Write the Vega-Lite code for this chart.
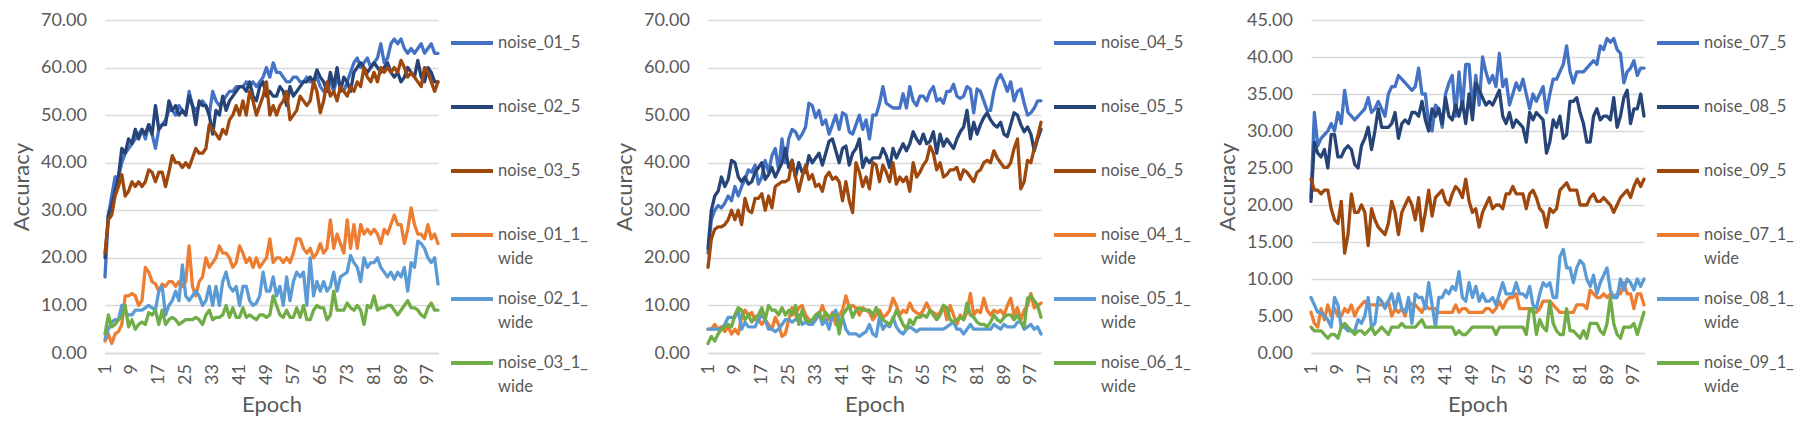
{
"$schema": "https://vega.github.io/schema/vega-lite/v6.json",
"background": "white",
"padding": {"left": 10, "top": 11, "right": 0, "bottom": 0},
"spacing": 25,
"config": {
 "font": "Lato",
 "view": {"stroke": null},
 "axis": {"labelFont": "Lato", "labelColor": "#595959", "labelFontSize": 18, "titleFont": "Lato", "titleColor": "#595959", "titleFontSize": 22, "titleFontWeight": "normal", "ticks": false, "domain": false, "gridColor": "#D9D9D9", "gridWidth": 1.5},
 "axisX": {"grid": false, "domain": true, "domainColor": "#D9D9D9", "domainWidth": 1.5, "labelAngle": -90, "labelPadding": 10.5, "titlePadding": 10},
 "axisY": {"labelPadding": 18.5, "titlePadding": 7},
 "legend": {"orient": "right", "offset": 9, "padding": 0, "symbolType": "stroke", "symbolSize": 1764, "symbolStrokeWidth": 4, "labelFont": "Lato", "labelFontSize": 16.5, "labelColor": "#595959", "labelOffset": 3, "rowPadding": 8, "labelLimit": 300}
},
"datasets": {
"p1": [
{"e":1,"noise_01_5":16,"noise_02_5":20,"noise_03_5":21,"noise_01_1_wide":2.5,"noise_02_1_wide":3,"noise_03_1_wide":4},
{"e":2,"noise_01_5":29,"noise_02_5":29,"noise_03_5":28,"noise_01_1_wide":4,"noise_02_1_wide":5,"noise_03_1_wide":8},
{"e":3,"noise_01_5":33,"noise_02_5":31,"noise_03_5":29,"noise_01_1_wide":2,"noise_02_1_wide":6.5,"noise_03_1_wide":5.5},
{"e":4,"noise_01_5":37,"noise_02_5":34,"noise_03_5":33,"noise_01_1_wide":4,"noise_02_1_wide":7,"noise_03_1_wide":6},
{"e":5,"noise_01_5":37,"noise_02_5":37,"noise_03_5":35,"noise_01_1_wide":4.5,"noise_02_1_wide":7,"noise_03_1_wide":7},
{"e":6,"noise_01_5":40,"noise_02_5":43,"noise_03_5":37.5,"noise_01_1_wide":6,"noise_02_1_wide":10,"noise_03_1_wide":7.5},
{"e":7,"noise_01_5":42,"noise_02_5":42,"noise_03_5":33,"noise_01_1_wide":12,"noise_02_1_wide":8.5,"noise_03_1_wide":10},
{"e":8,"noise_01_5":43,"noise_02_5":45,"noise_03_5":34,"noise_01_1_wide":12,"noise_02_1_wide":8,"noise_03_1_wide":5.5},
{"e":9,"noise_01_5":44,"noise_02_5":44,"noise_03_5":36,"noise_01_1_wide":12.5,"noise_02_1_wide":8,"noise_03_1_wide":7},
{"e":10,"noise_01_5":45,"noise_02_5":47,"noise_03_5":35,"noise_01_1_wide":12,"noise_02_1_wide":9,"noise_03_1_wide":5},
{"e":11,"noise_01_5":46,"noise_02_5":45,"noise_03_5":36,"noise_01_1_wide":10,"noise_02_1_wide":9,"noise_03_1_wide":6},
{"e":12,"noise_01_5":47,"noise_02_5":47,"noise_03_5":35,"noise_01_1_wide":11,"noise_02_1_wide":9,"noise_03_1_wide":6.5},
{"e":13,"noise_01_5":45,"noise_02_5":46,"noise_03_5":36,"noise_01_1_wide":18,"noise_02_1_wide":9.5,"noise_03_1_wide":6},
{"e":14,"noise_01_5":48,"noise_02_5":48,"noise_03_5":38.5,"noise_01_1_wide":17,"noise_02_1_wide":10,"noise_03_1_wide":8.5},
{"e":15,"noise_01_5":46,"noise_02_5":46,"noise_03_5":38,"noise_01_1_wide":15,"noise_02_1_wide":9.5,"noise_03_1_wide":8},
{"e":16,"noise_01_5":43,"noise_02_5":52,"noise_03_5":36,"noise_01_1_wide":14.5,"noise_02_1_wide":9,"noise_03_1_wide":9},
{"e":17,"noise_01_5":47,"noise_02_5":47,"noise_03_5":38,"noise_01_1_wide":13,"noise_02_1_wide":13,"noise_03_1_wide":6},
{"e":18,"noise_01_5":48,"noise_02_5":48,"noise_03_5":38,"noise_01_1_wide":14.5,"noise_02_1_wide":14,"noise_03_1_wide":9},
{"e":19,"noise_01_5":49,"noise_02_5":48,"noise_03_5":35,"noise_01_1_wide":14,"noise_02_1_wide":8,"noise_03_1_wide":6},
{"e":20,"noise_01_5":51,"noise_02_5":53,"noise_03_5":38,"noise_01_1_wide":15,"noise_02_1_wide":10,"noise_03_1_wide":7},
{"e":21,"noise_01_5":51,"noise_02_5":51,"noise_03_5":41.5,"noise_01_1_wide":15,"noise_02_1_wide":11,"noise_03_1_wide":7.5},
{"e":22,"noise_01_5":50,"noise_02_5":52,"noise_03_5":40,"noise_01_1_wide":14,"noise_02_1_wide":13,"noise_03_1_wide":7},
{"e":23,"noise_01_5":52,"noise_02_5":50,"noise_03_5":40,"noise_01_1_wide":15,"noise_02_1_wide":11,"noise_03_1_wide":6},
{"e":24,"noise_01_5":51,"noise_02_5":51,"noise_03_5":39,"noise_01_1_wide":14,"noise_02_1_wide":18.5,"noise_03_1_wide":6.5},
{"e":25,"noise_01_5":50,"noise_02_5":50,"noise_03_5":40,"noise_01_1_wide":15,"noise_02_1_wide":12,"noise_03_1_wide":7},
{"e":26,"noise_01_5":55,"noise_02_5":54,"noise_03_5":39,"noise_01_1_wide":22.5,"noise_02_1_wide":11,"noise_03_1_wide":7},
{"e":27,"noise_01_5":52,"noise_02_5":52,"noise_03_5":41,"noise_01_1_wide":14,"noise_02_1_wide":12,"noise_03_1_wide":7},
{"e":28,"noise_01_5":51,"noise_02_5":48,"noise_03_5":43,"noise_01_1_wide":12,"noise_02_1_wide":13,"noise_03_1_wide":7.5},
{"e":29,"noise_01_5":52,"noise_02_5":53,"noise_03_5":42,"noise_01_1_wide":15,"noise_02_1_wide":12,"noise_03_1_wide":7},
{"e":30,"noise_01_5":53,"noise_02_5":52,"noise_03_5":42,"noise_01_1_wide":16,"noise_02_1_wide":10,"noise_03_1_wide":6},
{"e":31,"noise_01_5":52,"noise_02_5":52,"noise_03_5":43,"noise_01_1_wide":20,"noise_02_1_wide":11,"noise_03_1_wide":8},
{"e":32,"noise_01_5":50,"noise_02_5":50,"noise_03_5":48,"noise_01_1_wide":18,"noise_02_1_wide":14,"noise_03_1_wide":9},
{"e":33,"noise_01_5":55,"noise_02_5":46,"noise_03_5":47,"noise_01_1_wide":19,"noise_02_1_wide":10,"noise_03_1_wide":7},
{"e":34,"noise_01_5":53,"noise_02_5":51,"noise_03_5":46,"noise_01_1_wide":20,"noise_02_1_wide":14,"noise_03_1_wide":7.5},
{"e":35,"noise_01_5":52,"noise_02_5":50,"noise_03_5":45,"noise_01_1_wide":22.5,"noise_02_1_wide":10,"noise_03_1_wide":7.5},
{"e":36,"noise_01_5":53,"noise_02_5":54,"noise_03_5":47,"noise_01_1_wide":21,"noise_02_1_wide":15,"noise_03_1_wide":8},
{"e":37,"noise_01_5":54,"noise_02_5":51,"noise_03_5":46,"noise_01_1_wide":21,"noise_02_1_wide":17,"noise_03_1_wide":10},
{"e":38,"noise_01_5":55,"noise_02_5":53,"noise_03_5":49,"noise_01_1_wide":20,"noise_02_1_wide":14,"noise_03_1_wide":7.5},
{"e":39,"noise_01_5":55,"noise_02_5":54,"noise_03_5":50,"noise_01_1_wide":18,"noise_02_1_wide":13,"noise_03_1_wide":9.5},
{"e":40,"noise_01_5":56,"noise_02_5":55,"noise_03_5":52,"noise_01_1_wide":19,"noise_02_1_wide":14,"noise_03_1_wide":7.5},
{"e":41,"noise_01_5":56,"noise_02_5":56,"noise_03_5":50,"noise_01_1_wide":22.5,"noise_02_1_wide":10,"noise_03_1_wide":7.5},
{"e":42,"noise_01_5":56,"noise_02_5":56,"noise_03_5":53,"noise_01_1_wide":21,"noise_02_1_wide":14,"noise_03_1_wide":9.5},
{"e":43,"noise_01_5":57,"noise_02_5":55,"noise_03_5":50,"noise_01_1_wide":19,"noise_02_1_wide":14,"noise_03_1_wide":7.5},
{"e":44,"noise_01_5":56,"noise_02_5":57,"noise_03_5":55,"noise_01_1_wide":20,"noise_02_1_wide":11,"noise_03_1_wide":8},
{"e":45,"noise_01_5":57,"noise_02_5":54,"noise_03_5":53,"noise_01_1_wide":18,"noise_02_1_wide":10,"noise_03_1_wide":7.5},
{"e":46,"noise_01_5":56,"noise_02_5":53,"noise_03_5":50,"noise_01_1_wide":20,"noise_02_1_wide":10.5,"noise_03_1_wide":7},
{"e":47,"noise_01_5":57,"noise_02_5":56,"noise_03_5":52,"noise_01_1_wide":18,"noise_02_1_wide":12,"noise_03_1_wide":8},
{"e":48,"noise_01_5":58,"noise_02_5":57,"noise_03_5":54,"noise_01_1_wide":19,"noise_02_1_wide":17,"noise_03_1_wide":8},
{"e":49,"noise_01_5":60,"noise_02_5":54,"noise_03_5":57,"noise_01_1_wide":20,"noise_02_1_wide":13,"noise_03_1_wide":7.5},
{"e":50,"noise_01_5":58,"noise_02_5":55,"noise_03_5":50,"noise_01_1_wide":24,"noise_02_1_wide":13,"noise_03_1_wide":8},
{"e":51,"noise_01_5":61,"noise_02_5":54,"noise_03_5":52,"noise_01_1_wide":19,"noise_02_1_wide":16,"noise_03_1_wide":12},
{"e":52,"noise_01_5":59,"noise_02_5":54,"noise_03_5":50,"noise_01_1_wide":20,"noise_02_1_wide":12,"noise_03_1_wide":10},
{"e":53,"noise_01_5":59,"noise_02_5":56,"noise_03_5":52,"noise_01_1_wide":20,"noise_02_1_wide":14,"noise_03_1_wide":8},
{"e":54,"noise_01_5":58,"noise_02_5":55,"noise_03_5":53,"noise_01_1_wide":19,"noise_02_1_wide":10,"noise_03_1_wide":7.5},
{"e":55,"noise_01_5":57,"noise_02_5":52,"noise_03_5":55,"noise_01_1_wide":20,"noise_02_1_wide":16,"noise_03_1_wide":9},
{"e":56,"noise_01_5":57,"noise_02_5":56,"noise_03_5":49,"noise_01_1_wide":19,"noise_02_1_wide":11,"noise_03_1_wide":7.5},
{"e":57,"noise_01_5":58,"noise_02_5":54,"noise_03_5":50,"noise_01_1_wide":21,"noise_02_1_wide":15,"noise_03_1_wide":7.5},
{"e":58,"noise_01_5":58,"noise_02_5":55,"noise_03_5":51,"noise_01_1_wide":24,"noise_02_1_wide":17,"noise_03_1_wide":9.5},
{"e":59,"noise_01_5":57,"noise_02_5":56,"noise_03_5":54,"noise_01_1_wide":24,"noise_02_1_wide":16,"noise_03_1_wide":7.5},
{"e":60,"noise_01_5":57,"noise_02_5":57,"noise_03_5":53,"noise_01_1_wide":22,"noise_02_1_wide":17,"noise_03_1_wide":10},
{"e":61,"noise_01_5":58,"noise_02_5":57,"noise_03_5":52,"noise_01_1_wide":21,"noise_02_1_wide":10,"noise_03_1_wide":7},
{"e":62,"noise_01_5":57,"noise_02_5":58,"noise_03_5":53,"noise_01_1_wide":22,"noise_02_1_wide":20,"noise_03_1_wide":7},
{"e":63,"noise_01_5":57,"noise_02_5":57,"noise_03_5":57,"noise_01_1_wide":20,"noise_02_1_wide":12,"noise_03_1_wide":9},
{"e":64,"noise_01_5":58,"noise_02_5":59.5,"noise_03_5":55,"noise_01_1_wide":21,"noise_02_1_wide":15,"noise_03_1_wide":10},
{"e":65,"noise_01_5":56,"noise_02_5":58,"noise_03_5":50.5,"noise_01_1_wide":23,"noise_02_1_wide":13,"noise_03_1_wide":9.5},
{"e":66,"noise_01_5":55,"noise_02_5":57,"noise_03_5":53,"noise_01_1_wide":21,"noise_02_1_wide":15,"noise_03_1_wide":9.5},
{"e":67,"noise_01_5":56,"noise_02_5":55,"noise_03_5":57,"noise_01_1_wide":22,"noise_02_1_wide":13,"noise_03_1_wide":7},
{"e":68,"noise_01_5":57,"noise_02_5":59,"noise_03_5":54,"noise_01_1_wide":28,"noise_02_1_wide":14,"noise_03_1_wide":8},
{"e":69,"noise_01_5":55,"noise_02_5":56,"noise_03_5":55,"noise_01_1_wide":22,"noise_02_1_wide":17,"noise_03_1_wide":13},
{"e":70,"noise_01_5":58,"noise_02_5":60,"noise_03_5":53,"noise_01_1_wide":25,"noise_02_1_wide":13,"noise_03_1_wide":9},
{"e":71,"noise_01_5":56,"noise_02_5":55,"noise_03_5":56,"noise_01_1_wide":23,"noise_02_1_wide":16,"noise_03_1_wide":9},
{"e":72,"noise_01_5":55,"noise_02_5":58,"noise_03_5":55,"noise_01_1_wide":21,"noise_02_1_wide":16.5,"noise_03_1_wide":9},
{"e":73,"noise_01_5":57,"noise_02_5":57,"noise_03_5":54,"noise_01_1_wide":28,"noise_02_1_wide":17,"noise_03_1_wide":10.5},
{"e":74,"noise_01_5":59,"noise_02_5":55,"noise_03_5":56,"noise_01_1_wide":22,"noise_02_1_wide":20.5,"noise_03_1_wide":9.5},
{"e":75,"noise_01_5":61,"noise_02_5":59,"noise_03_5":55,"noise_01_1_wide":27,"noise_02_1_wide":19,"noise_03_1_wide":9},
{"e":76,"noise_01_5":62,"noise_02_5":60,"noise_03_5":57,"noise_01_1_wide":22,"noise_02_1_wide":18,"noise_03_1_wide":10},
{"e":77,"noise_01_5":60,"noise_02_5":61,"noise_03_5":56,"noise_01_1_wide":27,"noise_02_1_wide":15,"noise_03_1_wide":9},
{"e":78,"noise_01_5":61,"noise_02_5":60,"noise_03_5":60,"noise_01_1_wide":25,"noise_02_1_wide":20,"noise_03_1_wide":6},
{"e":79,"noise_01_5":62,"noise_02_5":59,"noise_03_5":58,"noise_01_1_wide":26,"noise_02_1_wide":18,"noise_03_1_wide":10},
{"e":80,"noise_01_5":60,"noise_02_5":60,"noise_03_5":57,"noise_01_1_wide":25,"noise_02_1_wide":19,"noise_03_1_wide":9.5},
{"e":81,"noise_01_5":61,"noise_02_5":61,"noise_03_5":59,"noise_01_1_wide":26,"noise_02_1_wide":19,"noise_03_1_wide":12},
{"e":82,"noise_01_5":62,"noise_02_5":60,"noise_03_5":57,"noise_01_1_wide":25,"noise_02_1_wide":20,"noise_03_1_wide":9},
{"e":83,"noise_01_5":65,"noise_02_5":59,"noise_03_5":60,"noise_01_1_wide":23,"noise_02_1_wide":18,"noise_03_1_wide":9.5},
{"e":84,"noise_01_5":61,"noise_02_5":60,"noise_03_5":59,"noise_01_1_wide":26,"noise_02_1_wide":17,"noise_03_1_wide":9.5},
{"e":85,"noise_01_5":62,"noise_02_5":61,"noise_03_5":60,"noise_01_1_wide":25,"noise_02_1_wide":16,"noise_03_1_wide":10},
{"e":86,"noise_01_5":65,"noise_02_5":59,"noise_03_5":59,"noise_01_1_wide":27,"noise_02_1_wide":17,"noise_03_1_wide":10},
{"e":87,"noise_01_5":66,"noise_02_5":58,"noise_03_5":60,"noise_01_1_wide":29,"noise_02_1_wide":15.5,"noise_03_1_wide":9},
{"e":88,"noise_01_5":65,"noise_02_5":59,"noise_03_5":59,"noise_01_1_wide":27,"noise_02_1_wide":17,"noise_03_1_wide":8},
{"e":89,"noise_01_5":66,"noise_02_5":57,"noise_03_5":61.5,"noise_01_1_wide":27,"noise_02_1_wide":16,"noise_03_1_wide":9},
{"e":90,"noise_01_5":64,"noise_02_5":58,"noise_03_5":60,"noise_01_1_wide":23,"noise_02_1_wide":18,"noise_03_1_wide":10},
{"e":91,"noise_01_5":63,"noise_02_5":60,"noise_03_5":58,"noise_01_1_wide":26,"noise_02_1_wide":13,"noise_03_1_wide":11},
{"e":92,"noise_01_5":64,"noise_02_5":59,"noise_03_5":59,"noise_01_1_wide":30.5,"noise_02_1_wide":19,"noise_03_1_wide":9.5},
{"e":93,"noise_01_5":63,"noise_02_5":58,"noise_03_5":58,"noise_01_1_wide":27,"noise_02_1_wide":18,"noise_03_1_wide":9.5},
{"e":94,"noise_01_5":64,"noise_02_5":61.5,"noise_03_5":57,"noise_01_1_wide":25,"noise_02_1_wide":23.5,"noise_03_1_wide":9},
{"e":95,"noise_01_5":65,"noise_02_5":58,"noise_03_5":56,"noise_01_1_wide":25,"noise_02_1_wide":23,"noise_03_1_wide":8},
{"e":96,"noise_01_5":63,"noise_02_5":57,"noise_03_5":60,"noise_01_1_wide":24,"noise_02_1_wide":22,"noise_03_1_wide":7.5},
{"e":97,"noise_01_5":64,"noise_02_5":60,"noise_03_5":59,"noise_01_1_wide":27,"noise_02_1_wide":20,"noise_03_1_wide":9.5},
{"e":98,"noise_01_5":65,"noise_02_5":59,"noise_03_5":57,"noise_01_1_wide":24,"noise_02_1_wide":19,"noise_03_1_wide":10.5},
{"e":99,"noise_01_5":63,"noise_02_5":57,"noise_03_5":55,"noise_01_1_wide":25,"noise_02_1_wide":20,"noise_03_1_wide":9},
{"e":100,"noise_01_5":63,"noise_02_5":57,"noise_03_5":57,"noise_01_1_wide":23,"noise_02_1_wide":14.5,"noise_03_1_wide":9}
],
"p2": [
{"e":1,"noise_04_5":21,"noise_05_5":22,"noise_06_5":18,"noise_04_1_wide":5,"noise_05_1_wide":5,"noise_06_1_wide":2},
{"e":2,"noise_04_5":28,"noise_05_5":30,"noise_06_5":24,"noise_04_1_wide":5,"noise_05_1_wide":5,"noise_06_1_wide":3.5},
{"e":3,"noise_04_5":30,"noise_05_5":33,"noise_06_5":26,"noise_04_1_wide":6,"noise_05_1_wide":5,"noise_06_1_wide":2.5},
{"e":4,"noise_04_5":31,"noise_05_5":34,"noise_06_5":26.5,"noise_04_1_wide":5,"noise_05_1_wide":5,"noise_06_1_wide":4},
{"e":5,"noise_04_5":30.5,"noise_05_5":37,"noise_06_5":26.5,"noise_04_1_wide":5.5,"noise_05_1_wide":5,"noise_06_1_wide":5},
{"e":6,"noise_04_5":31.5,"noise_05_5":35,"noise_06_5":27,"noise_04_1_wide":4.5,"noise_05_1_wide":6,"noise_06_1_wide":5.5},
{"e":7,"noise_04_5":33,"noise_05_5":36.5,"noise_06_5":28,"noise_04_1_wide":5.5,"noise_05_1_wide":7.5,"noise_06_1_wide":6},
{"e":8,"noise_04_5":32,"noise_05_5":40.5,"noise_06_5":30,"noise_04_1_wide":4,"noise_05_1_wide":7.5,"noise_06_1_wide":5.5},
{"e":9,"noise_04_5":35,"noise_05_5":40,"noise_06_5":28,"noise_04_1_wide":5,"noise_05_1_wide":7.5,"noise_06_1_wide":8},
{"e":10,"noise_04_5":33,"noise_05_5":37,"noise_06_5":30,"noise_04_1_wide":4,"noise_05_1_wide":9,"noise_06_1_wide":9.5},
{"e":11,"noise_04_5":35,"noise_05_5":36,"noise_06_5":27,"noise_04_1_wide":7.5,"noise_05_1_wide":5,"noise_06_1_wide":9},
{"e":12,"noise_04_5":36.5,"noise_05_5":37,"noise_06_5":32.5,"noise_04_1_wide":9,"noise_05_1_wide":6.5,"noise_06_1_wide":7},
{"e":13,"noise_04_5":38.5,"noise_05_5":35.5,"noise_06_5":30,"noise_04_1_wide":8,"noise_05_1_wide":5.5,"noise_06_1_wide":8},
{"e":14,"noise_04_5":38,"noise_05_5":36,"noise_06_5":29.5,"noise_04_1_wide":8.5,"noise_05_1_wide":5.5,"noise_06_1_wide":6.5},
{"e":15,"noise_04_5":39.5,"noise_05_5":38,"noise_06_5":32.5,"noise_04_1_wide":7,"noise_05_1_wide":5.5,"noise_06_1_wide":7.5},
{"e":16,"noise_04_5":35.5,"noise_05_5":39,"noise_06_5":32.5,"noise_04_1_wide":7,"noise_05_1_wide":7,"noise_06_1_wide":8},
{"e":17,"noise_04_5":37,"noise_05_5":40,"noise_06_5":33.5,"noise_04_1_wide":6,"noise_05_1_wide":8,"noise_06_1_wide":9.5},
{"e":18,"noise_04_5":40.5,"noise_05_5":36.5,"noise_06_5":30,"noise_04_1_wide":7,"noise_05_1_wide":7,"noise_06_1_wide":7},
{"e":19,"noise_04_5":38,"noise_05_5":37.5,"noise_06_5":33,"noise_04_1_wide":6,"noise_05_1_wide":5,"noise_06_1_wide":10},
{"e":20,"noise_04_5":41.5,"noise_05_5":39,"noise_06_5":30.5,"noise_04_1_wide":5,"noise_05_1_wide":5,"noise_06_1_wide":9},
{"e":21,"noise_04_5":43,"noise_05_5":37,"noise_06_5":35,"noise_04_1_wide":7.5,"noise_05_1_wide":4.5,"noise_06_1_wide":9},
{"e":22,"noise_04_5":38.5,"noise_05_5":38.5,"noise_06_5":35.5,"noise_04_1_wide":6,"noise_05_1_wide":5,"noise_06_1_wide":8},
{"e":23,"noise_04_5":45,"noise_05_5":40,"noise_06_5":36,"noise_04_1_wide":3.5,"noise_05_1_wide":6,"noise_06_1_wide":9.5},
{"e":24,"noise_04_5":40,"noise_05_5":43,"noise_06_5":36,"noise_04_1_wide":4,"noise_05_1_wide":7,"noise_06_1_wide":8},
{"e":25,"noise_04_5":45,"noise_05_5":39,"noise_06_5":36.5,"noise_04_1_wide":7,"noise_05_1_wide":7,"noise_06_1_wide":9},
{"e":26,"noise_04_5":47,"noise_05_5":40.5,"noise_06_5":40.5,"noise_04_1_wide":9.5,"noise_05_1_wide":6.5,"noise_06_1_wide":8},
{"e":27,"noise_04_5":46.5,"noise_05_5":37,"noise_06_5":37,"noise_04_1_wide":8,"noise_05_1_wide":7,"noise_06_1_wide":10},
{"e":28,"noise_04_5":45,"noise_05_5":40,"noise_06_5":34,"noise_04_1_wide":9.5,"noise_05_1_wide":8,"noise_06_1_wide":6},
{"e":29,"noise_04_5":46,"noise_05_5":38,"noise_06_5":37,"noise_04_1_wide":10,"noise_05_1_wide":6,"noise_06_1_wide":9},
{"e":30,"noise_04_5":47.5,"noise_05_5":38,"noise_06_5":39.5,"noise_04_1_wide":8,"noise_05_1_wide":6.5,"noise_06_1_wide":7},
{"e":31,"noise_04_5":52.5,"noise_05_5":41.5,"noise_06_5":36.5,"noise_04_1_wide":7,"noise_05_1_wide":6,"noise_06_1_wide":6.5},
{"e":32,"noise_04_5":52,"noise_05_5":40,"noise_06_5":37.5,"noise_04_1_wide":6.5,"noise_05_1_wide":6,"noise_06_1_wide":7},
{"e":33,"noise_04_5":49.5,"noise_05_5":41,"noise_06_5":35,"noise_04_1_wide":7,"noise_05_1_wide":7,"noise_06_1_wide":8},
{"e":34,"noise_04_5":51,"noise_05_5":42,"noise_06_5":35.5,"noise_04_1_wide":8,"noise_05_1_wide":8.5,"noise_06_1_wide":8.5},
{"e":35,"noise_04_5":48,"noise_05_5":39.5,"noise_06_5":34,"noise_04_1_wide":10,"noise_05_1_wide":6,"noise_06_1_wide":7},
{"e":36,"noise_04_5":49,"noise_05_5":42,"noise_06_5":37,"noise_04_1_wide":8,"noise_05_1_wide":7,"noise_06_1_wide":8.5},
{"e":37,"noise_04_5":46,"noise_05_5":44.5,"noise_06_5":38,"noise_04_1_wide":7,"noise_05_1_wide":5,"noise_06_1_wide":7.5},
{"e":38,"noise_04_5":48,"noise_05_5":45,"noise_06_5":36.5,"noise_04_1_wide":8.5,"noise_05_1_wide":8,"noise_06_1_wide":8},
{"e":39,"noise_04_5":50,"noise_05_5":42.5,"noise_06_5":37,"noise_04_1_wide":6,"noise_05_1_wide":9,"noise_06_1_wide":8},
{"e":40,"noise_04_5":47,"noise_05_5":40,"noise_06_5":36,"noise_04_1_wide":8,"noise_05_1_wide":6,"noise_06_1_wide":4},
{"e":41,"noise_04_5":50.5,"noise_05_5":43,"noise_06_5":32,"noise_04_1_wide":9,"noise_05_1_wide":7.5,"noise_06_1_wide":8},
{"e":42,"noise_04_5":50,"noise_05_5":43.5,"noise_06_5":36,"noise_04_1_wide":12,"noise_05_1_wide":5,"noise_06_1_wide":9},
{"e":43,"noise_04_5":46.5,"noise_05_5":39.5,"noise_06_5":32,"noise_04_1_wide":9.5,"noise_05_1_wide":4,"noise_06_1_wide":10},
{"e":44,"noise_04_5":46,"noise_05_5":42,"noise_06_5":29.5,"noise_04_1_wide":10,"noise_05_1_wide":4,"noise_06_1_wide":7.5},
{"e":45,"noise_04_5":48,"noise_05_5":43,"noise_06_5":40,"noise_04_1_wide":9.5,"noise_05_1_wide":4,"noise_06_1_wide":9},
{"e":46,"noise_04_5":50,"noise_05_5":45,"noise_06_5":38,"noise_04_1_wide":8,"noise_05_1_wide":3.5,"noise_06_1_wide":9.5},
{"e":47,"noise_04_5":47,"noise_05_5":39,"noise_06_5":35,"noise_04_1_wide":9.5,"noise_05_1_wide":4,"noise_06_1_wide":9},
{"e":48,"noise_04_5":49,"noise_05_5":41,"noise_06_5":37,"noise_04_1_wide":9,"noise_05_1_wide":4.5,"noise_06_1_wide":9},
{"e":49,"noise_04_5":45,"noise_05_5":40,"noise_06_5":34.5,"noise_04_1_wide":8.5,"noise_05_1_wide":6,"noise_06_1_wide":9},
{"e":50,"noise_04_5":50,"noise_05_5":41,"noise_06_5":40,"noise_04_1_wide":7,"noise_05_1_wide":4,"noise_06_1_wide":8},
{"e":51,"noise_04_5":50,"noise_05_5":41,"noise_06_5":39.5,"noise_04_1_wide":8,"noise_05_1_wide":3.5,"noise_06_1_wide":9.5},
{"e":52,"noise_04_5":52.5,"noise_05_5":41,"noise_06_5":36,"noise_04_1_wide":9,"noise_05_1_wide":7.5,"noise_06_1_wide":8},
{"e":53,"noise_04_5":56,"noise_05_5":43,"noise_06_5":39.5,"noise_04_1_wide":7.5,"noise_05_1_wide":5,"noise_06_1_wide":7},
{"e":54,"noise_04_5":52.5,"noise_05_5":41.5,"noise_06_5":38,"noise_04_1_wide":8,"noise_05_1_wide":6,"noise_06_1_wide":6.5},
{"e":55,"noise_04_5":52,"noise_05_5":39,"noise_06_5":36,"noise_04_1_wide":9,"noise_05_1_wide":5.5,"noise_06_1_wide":6},
{"e":56,"noise_04_5":51.5,"noise_05_5":43,"noise_06_5":40,"noise_04_1_wide":11.5,"noise_05_1_wide":7.5,"noise_06_1_wide":7},
{"e":57,"noise_04_5":51.5,"noise_05_5":41,"noise_06_5":35.5,"noise_04_1_wide":10,"noise_05_1_wide":5.5,"noise_06_1_wide":9},
{"e":58,"noise_04_5":51.5,"noise_05_5":42.5,"noise_06_5":37,"noise_04_1_wide":8,"noise_05_1_wide":4.5,"noise_06_1_wide":7.5},
{"e":59,"noise_04_5":54.5,"noise_05_5":44,"noise_06_5":36,"noise_04_1_wide":9,"noise_05_1_wide":4,"noise_06_1_wide":6},
{"e":60,"noise_04_5":51.5,"noise_05_5":42.5,"noise_06_5":37,"noise_04_1_wide":8.5,"noise_05_1_wide":5,"noise_06_1_wide":5},
{"e":61,"noise_04_5":56,"noise_05_5":44,"noise_06_5":34,"noise_04_1_wide":10.5,"noise_05_1_wide":5.5,"noise_06_1_wide":7},
{"e":62,"noise_04_5":53,"noise_05_5":46.5,"noise_06_5":40,"noise_04_1_wide":9,"noise_05_1_wide":5,"noise_06_1_wide":6},
{"e":63,"noise_04_5":52,"noise_05_5":45,"noise_06_5":37,"noise_04_1_wide":8.5,"noise_05_1_wide":4.5,"noise_06_1_wide":7.5},
{"e":64,"noise_04_5":54,"noise_05_5":44,"noise_06_5":38,"noise_04_1_wide":8,"noise_05_1_wide":5,"noise_06_1_wide":7.5},
{"e":65,"noise_04_5":54,"noise_05_5":46,"noise_06_5":39.5,"noise_04_1_wide":9,"noise_05_1_wide":5,"noise_06_1_wide":8},
{"e":66,"noise_04_5":53,"noise_05_5":44,"noise_06_5":40.5,"noise_04_1_wide":10.5,"noise_05_1_wide":5,"noise_06_1_wide":7.5},
{"e":67,"noise_04_5":55,"noise_05_5":44.5,"noise_06_5":43.5,"noise_04_1_wide":9,"noise_05_1_wide":5,"noise_06_1_wide":9},
{"e":68,"noise_04_5":56,"noise_05_5":46.5,"noise_06_5":42,"noise_04_1_wide":8.5,"noise_05_1_wide":5,"noise_06_1_wide":8},
{"e":69,"noise_04_5":53,"noise_05_5":42,"noise_06_5":38.5,"noise_04_1_wide":8,"noise_05_1_wide":5,"noise_06_1_wide":7},
{"e":70,"noise_04_5":53.5,"noise_05_5":46,"noise_06_5":40,"noise_04_1_wide":8.5,"noise_05_1_wide":5,"noise_06_1_wide":8},
{"e":71,"noise_04_5":52.5,"noise_05_5":43.5,"noise_06_5":37,"noise_04_1_wide":10,"noise_05_1_wide":5,"noise_06_1_wide":10},
{"e":72,"noise_04_5":55,"noise_05_5":45,"noise_06_5":37.5,"noise_04_1_wide":7,"noise_05_1_wide":5.5,"noise_06_1_wide":9.5},
{"e":73,"noise_04_5":55,"noise_05_5":44,"noise_06_5":38.5,"noise_04_1_wide":10,"noise_05_1_wide":6,"noise_06_1_wide":7},
{"e":74,"noise_04_5":56.5,"noise_05_5":43,"noise_06_5":38.5,"noise_04_1_wide":8,"noise_05_1_wide":6.5,"noise_06_1_wide":6.5},
{"e":75,"noise_04_5":54,"noise_05_5":45,"noise_06_5":39,"noise_04_1_wide":6,"noise_05_1_wide":5,"noise_06_1_wide":7},
{"e":76,"noise_04_5":53.5,"noise_05_5":46.5,"noise_06_5":36.5,"noise_04_1_wide":8,"noise_05_1_wide":5,"noise_06_1_wide":7.5},
{"e":77,"noise_04_5":54,"noise_05_5":47.5,"noise_06_5":38.5,"noise_04_1_wide":7,"noise_05_1_wide":4,"noise_06_1_wide":7},
{"e":78,"noise_04_5":56,"noise_05_5":51,"noise_06_5":38,"noise_04_1_wide":8.5,"noise_05_1_wide":5,"noise_06_1_wide":10.5},
{"e":79,"noise_04_5":55.5,"noise_05_5":45,"noise_06_5":37,"noise_04_1_wide":12.5,"noise_05_1_wide":6,"noise_06_1_wide":8},
{"e":80,"noise_04_5":50.5,"noise_05_5":48.5,"noise_06_5":36,"noise_04_1_wide":8,"noise_05_1_wide":5,"noise_06_1_wide":7.5},
{"e":81,"noise_04_5":55.5,"noise_05_5":46,"noise_06_5":38,"noise_04_1_wide":9,"noise_05_1_wide":5,"noise_06_1_wide":6.5},
{"e":82,"noise_04_5":55,"noise_05_5":48,"noise_06_5":38.5,"noise_04_1_wide":8.5,"noise_05_1_wide":5,"noise_06_1_wide":6},
{"e":83,"noise_04_5":53,"noise_05_5":49.5,"noise_06_5":40,"noise_04_1_wide":11.5,"noise_05_1_wide":5,"noise_06_1_wide":6},
{"e":84,"noise_04_5":51,"noise_05_5":50.5,"noise_06_5":40.5,"noise_04_1_wide":9,"noise_05_1_wide":5,"noise_06_1_wide":5.5},
{"e":85,"noise_04_5":51,"noise_05_5":49,"noise_06_5":40,"noise_04_1_wide":8,"noise_05_1_wide":5,"noise_06_1_wide":6.5},
{"e":86,"noise_04_5":55,"noise_05_5":48,"noise_06_5":42.5,"noise_04_1_wide":9,"noise_05_1_wide":6,"noise_06_1_wide":8},
{"e":87,"noise_04_5":57.5,"noise_05_5":47.5,"noise_06_5":41,"noise_04_1_wide":8.5,"noise_05_1_wide":5.5,"noise_06_1_wide":7},
{"e":88,"noise_04_5":58.5,"noise_05_5":48.5,"noise_06_5":40,"noise_04_1_wide":9,"noise_05_1_wide":5,"noise_06_1_wide":6.5},
{"e":89,"noise_04_5":57,"noise_05_5":46,"noise_06_5":39,"noise_04_1_wide":8,"noise_05_1_wide":6,"noise_06_1_wide":7.5},
{"e":90,"noise_04_5":55,"noise_05_5":45.5,"noise_06_5":39,"noise_04_1_wide":10,"noise_05_1_wide":5.5,"noise_06_1_wide":8},
{"e":91,"noise_04_5":57,"noise_05_5":48,"noise_06_5":40,"noise_04_1_wide":11.5,"noise_05_1_wide":5.5,"noise_06_1_wide":8},
{"e":92,"noise_04_5":53,"noise_05_5":50.5,"noise_06_5":43,"noise_04_1_wide":8,"noise_05_1_wide":5.5,"noise_06_1_wide":7},
{"e":93,"noise_04_5":55,"noise_05_5":50,"noise_06_5":45,"noise_04_1_wide":9.5,"noise_05_1_wide":6.5,"noise_06_1_wide":8},
{"e":94,"noise_04_5":55.5,"noise_05_5":48,"noise_06_5":34.5,"noise_04_1_wide":7,"noise_05_1_wide":6.5,"noise_06_1_wide":6.5},
{"e":95,"noise_04_5":52.5,"noise_05_5":46.5,"noise_06_5":36,"noise_04_1_wide":9,"noise_05_1_wide":5,"noise_06_1_wide":5.5},
{"e":96,"noise_04_5":50,"noise_05_5":47.5,"noise_06_5":40.5,"noise_04_1_wide":10,"noise_05_1_wide":5.5,"noise_06_1_wide":11.5},
{"e":97,"noise_04_5":50.5,"noise_05_5":46,"noise_06_5":40,"noise_04_1_wide":12.5,"noise_05_1_wide":6,"noise_06_1_wide":12},
{"e":98,"noise_04_5":51.5,"noise_05_5":42.5,"noise_06_5":43,"noise_04_1_wide":9.5,"noise_05_1_wide":5,"noise_06_1_wide":11},
{"e":99,"noise_04_5":53,"noise_05_5":45,"noise_06_5":45.5,"noise_04_1_wide":10,"noise_05_1_wide":5.5,"noise_06_1_wide":10},
{"e":100,"noise_04_5":53,"noise_05_5":47,"noise_06_5":48.5,"noise_04_1_wide":10.5,"noise_05_1_wide":4,"noise_06_1_wide":7.5}
],
"p3": [
{"e":1,"noise_07_5":21,"noise_08_5":20.5,"noise_09_5":23.5,"noise_07_1_wide":5.5,"noise_08_1_wide":7.5,"noise_09_1_wide":3.5},
{"e":2,"noise_07_5":32.5,"noise_08_5":28.5,"noise_09_5":22,"noise_07_1_wide":4,"noise_08_1_wide":6.5,"noise_09_1_wide":3},
{"e":3,"noise_07_5":28,"noise_08_5":27,"noise_09_5":22,"noise_07_1_wide":3.5,"noise_08_1_wide":5.5,"noise_09_1_wide":3},
{"e":4,"noise_07_5":29,"noise_08_5":26.5,"noise_09_5":21.5,"noise_07_1_wide":6,"noise_08_1_wide":5.5,"noise_09_1_wide":3},
{"e":5,"noise_07_5":29.5,"noise_08_5":27.5,"noise_09_5":22,"noise_07_1_wide":4.5,"noise_08_1_wide":5,"noise_09_1_wide":2.5},
{"e":6,"noise_07_5":30,"noise_08_5":25,"noise_09_5":22,"noise_07_1_wide":6.5,"noise_08_1_wide":4.5,"noise_09_1_wide":2},
{"e":7,"noise_07_5":31,"noise_08_5":29.5,"noise_09_5":19.5,"noise_07_1_wide":5,"noise_08_1_wide":3.5,"noise_09_1_wide":2.5},
{"e":8,"noise_07_5":30,"noise_08_5":29.5,"noise_09_5":18,"noise_07_1_wide":6,"noise_08_1_wide":7.5,"noise_09_1_wide":2.5},
{"e":9,"noise_07_5":32.5,"noise_08_5":26.5,"noise_09_5":17.5,"noise_07_1_wide":5,"noise_08_1_wide":6.5,"noise_09_1_wide":2},
{"e":10,"noise_07_5":31,"noise_08_5":26.5,"noise_09_5":20.5,"noise_07_1_wide":5,"noise_08_1_wide":3.5,"noise_09_1_wide":3.5},
{"e":11,"noise_07_5":35.5,"noise_08_5":27.5,"noise_09_5":13.5,"noise_07_1_wide":6,"noise_08_1_wide":3.5,"noise_09_1_wide":4},
{"e":12,"noise_07_5":32.5,"noise_08_5":28,"noise_09_5":16,"noise_07_1_wide":5.5,"noise_08_1_wide":3,"noise_09_1_wide":3.5},
{"e":13,"noise_07_5":32,"noise_08_5":27.5,"noise_09_5":21.5,"noise_07_1_wide":6.5,"noise_08_1_wide":3,"noise_09_1_wide":3},
{"e":14,"noise_07_5":31.5,"noise_08_5":25.5,"noise_09_5":19,"noise_07_1_wide":5,"noise_08_1_wide":3,"noise_09_1_wide":2.5},
{"e":15,"noise_07_5":32,"noise_08_5":25,"noise_09_5":19,"noise_07_1_wide":6,"noise_08_1_wide":4.5,"noise_09_1_wide":3},
{"e":16,"noise_07_5":32.5,"noise_08_5":28,"noise_09_5":20,"noise_07_1_wide":6.5,"noise_08_1_wide":4,"noise_09_1_wide":3},
{"e":17,"noise_07_5":33,"noise_08_5":29,"noise_09_5":19,"noise_07_1_wide":7,"noise_08_1_wide":5,"noise_09_1_wide":2.5},
{"e":18,"noise_07_5":34.5,"noise_08_5":30.5,"noise_09_5":14.5,"noise_07_1_wide":6.5,"noise_08_1_wide":7.5,"noise_09_1_wide":3},
{"e":19,"noise_07_5":32.5,"noise_08_5":27.5,"noise_09_5":19.5,"noise_07_1_wide":6.5,"noise_08_1_wide":3.5,"noise_09_1_wide":3.5},
{"e":20,"noise_07_5":33,"noise_08_5":30,"noise_09_5":18,"noise_07_1_wide":6.5,"noise_08_1_wide":4,"noise_09_1_wide":2.5},
{"e":21,"noise_07_5":34,"noise_08_5":33,"noise_09_5":17,"noise_07_1_wide":6.5,"noise_08_1_wide":7.5,"noise_09_1_wide":3},
{"e":22,"noise_07_5":33,"noise_08_5":30.5,"noise_09_5":16.5,"noise_07_1_wide":6.5,"noise_08_1_wide":7,"noise_09_1_wide":3.5},
{"e":23,"noise_07_5":32,"noise_08_5":30.5,"noise_09_5":16,"noise_07_1_wide":6.5,"noise_08_1_wide":6,"noise_09_1_wide":3},
{"e":24,"noise_07_5":35,"noise_08_5":30.5,"noise_09_5":17.5,"noise_07_1_wide":7,"noise_08_1_wide":7,"noise_09_1_wide":2.5},
{"e":25,"noise_07_5":36,"noise_08_5":31,"noise_09_5":20.5,"noise_07_1_wide":5,"noise_08_1_wide":8,"noise_09_1_wide":3.5},
{"e":26,"noise_07_5":36,"noise_08_5":32.5,"noise_09_5":19,"noise_07_1_wide":6,"noise_08_1_wide":6,"noise_09_1_wide":3.5},
{"e":27,"noise_07_5":37.5,"noise_08_5":29,"noise_09_5":16,"noise_07_1_wide":5.5,"noise_08_1_wide":8,"noise_09_1_wide":3.5},
{"e":28,"noise_07_5":37,"noise_08_5":31,"noise_09_5":19,"noise_07_1_wide":6,"noise_08_1_wide":6,"noise_09_1_wide":4},
{"e":29,"noise_07_5":36.5,"noise_08_5":31.5,"noise_09_5":20,"noise_07_1_wide":5,"noise_08_1_wide":5.5,"noise_09_1_wide":3.5},
{"e":30,"noise_07_5":36,"noise_08_5":31,"noise_09_5":21,"noise_07_1_wide":7,"noise_08_1_wide":7.5,"noise_09_1_wide":3.5},
{"e":31,"noise_07_5":35.5,"noise_08_5":32.5,"noise_09_5":20,"noise_07_1_wide":6.5,"noise_08_1_wide":4,"noise_09_1_wide":3.5},
{"e":32,"noise_07_5":36,"noise_08_5":32.5,"noise_09_5":18,"noise_07_1_wide":6.5,"noise_08_1_wide":8,"noise_09_1_wide":3.5},
{"e":33,"noise_07_5":38.5,"noise_08_5":32,"noise_09_5":21,"noise_07_1_wide":6,"noise_08_1_wide":7.5,"noise_09_1_wide":4},
{"e":34,"noise_07_5":35,"noise_08_5":34,"noise_09_5":16.5,"noise_07_1_wide":5.5,"noise_08_1_wide":7.5,"noise_09_1_wide":4.5},
{"e":35,"noise_07_5":35,"noise_08_5":31.5,"noise_09_5":19,"noise_07_1_wide":6.5,"noise_08_1_wide":6,"noise_09_1_wide":3.5},
{"e":36,"noise_07_5":31,"noise_08_5":30,"noise_09_5":22,"noise_07_1_wide":6,"noise_08_1_wide":9.5,"noise_09_1_wide":3.5},
{"e":37,"noise_07_5":30,"noise_08_5":33,"noise_09_5":18.5,"noise_07_1_wide":6,"noise_08_1_wide":6.5,"noise_09_1_wide":3.5},
{"e":38,"noise_07_5":33.5,"noise_08_5":32,"noise_09_5":21,"noise_07_1_wide":6,"noise_08_1_wide":3.5,"noise_09_1_wide":3.5},
{"e":39,"noise_07_5":33,"noise_08_5":33,"noise_09_5":21.5,"noise_07_1_wide":5.5,"noise_08_1_wide":7.5,"noise_09_1_wide":3.5},
{"e":40,"noise_07_5":30.5,"noise_08_5":31,"noise_09_5":22,"noise_07_1_wide":5.5,"noise_08_1_wide":7.5,"noise_09_1_wide":3.5},
{"e":41,"noise_07_5":35,"noise_08_5":34.5,"noise_09_5":20.5,"noise_07_1_wide":5.5,"noise_08_1_wide":8.5,"noise_09_1_wide":3.5},
{"e":42,"noise_07_5":36.5,"noise_08_5":32,"noise_09_5":20,"noise_07_1_wide":5.5,"noise_08_1_wide":8,"noise_09_1_wide":3.5},
{"e":43,"noise_07_5":37.5,"noise_08_5":31.5,"noise_09_5":21.5,"noise_07_1_wide":5.5,"noise_08_1_wide":9,"noise_09_1_wide":3.5},
{"e":44,"noise_07_5":32,"noise_08_5":33.5,"noise_09_5":22.5,"noise_07_1_wide":6.5,"noise_08_1_wide":8.5,"noise_09_1_wide":2.5},
{"e":45,"noise_07_5":38,"noise_08_5":32,"noise_09_5":22,"noise_07_1_wide":5.5,"noise_08_1_wide":11,"noise_09_1_wide":3},
{"e":46,"noise_07_5":33,"noise_08_5":34,"noise_09_5":21,"noise_07_1_wide":6,"noise_08_1_wide":7.5,"noise_09_1_wide":2.5},
{"e":47,"noise_07_5":39,"noise_08_5":31,"noise_09_5":23.5,"noise_07_1_wide":6,"noise_08_1_wide":7,"noise_09_1_wide":2.5},
{"e":48,"noise_07_5":39,"noise_08_5":35,"noise_09_5":20.5,"noise_07_1_wide":5.5,"noise_08_1_wide":9.5,"noise_09_1_wide":3},
{"e":49,"noise_07_5":33,"noise_08_5":31.5,"noise_09_5":19,"noise_07_1_wide":5.5,"noise_08_1_wide":7.5,"noise_09_1_wide":3.5},
{"e":50,"noise_07_5":37.5,"noise_08_5":36.5,"noise_09_5":19.5,"noise_07_1_wide":5.5,"noise_08_1_wide":9,"noise_09_1_wide":3.5},
{"e":51,"noise_07_5":33.5,"noise_08_5":35.5,"noise_09_5":17,"noise_07_1_wide":5.5,"noise_08_1_wide":7,"noise_09_1_wide":3.5},
{"e":52,"noise_07_5":40,"noise_08_5":34.5,"noise_09_5":19,"noise_07_1_wide":5.5,"noise_08_1_wide":8,"noise_09_1_wide":3.5},
{"e":53,"noise_07_5":38,"noise_08_5":33.5,"noise_09_5":20,"noise_07_1_wide":6,"noise_08_1_wide":7,"noise_09_1_wide":3.5},
{"e":54,"noise_07_5":36.5,"noise_08_5":34,"noise_09_5":21,"noise_07_1_wide":6,"noise_08_1_wide":7,"noise_09_1_wide":3.5},
{"e":55,"noise_07_5":37.5,"noise_08_5":33.5,"noise_09_5":19.5,"noise_07_1_wide":5.5,"noise_08_1_wide":7.5,"noise_09_1_wide":3.5},
{"e":56,"noise_07_5":36,"noise_08_5":34.5,"noise_09_5":20,"noise_07_1_wide":6,"noise_08_1_wide":6.5,"noise_09_1_wide":2.5},
{"e":57,"noise_07_5":40.5,"noise_08_5":35.5,"noise_09_5":20,"noise_07_1_wide":7,"noise_08_1_wide":8,"noise_09_1_wide":3.5},
{"e":58,"noise_07_5":36,"noise_08_5":32,"noise_09_5":19.5,"noise_07_1_wide":6,"noise_08_1_wide":9.5,"noise_09_1_wide":3.5},
{"e":59,"noise_07_5":37,"noise_08_5":31,"noise_09_5":21.5,"noise_07_1_wide":7,"noise_08_1_wide":8,"noise_09_1_wide":3.5},
{"e":60,"noise_07_5":33.5,"noise_08_5":32.5,"noise_09_5":21.5,"noise_07_1_wide":7.5,"noise_08_1_wide":8,"noise_09_1_wide":3.5},
{"e":61,"noise_07_5":35,"noise_08_5":30.5,"noise_09_5":22.5,"noise_07_1_wide":7.5,"noise_08_1_wide":8,"noise_09_1_wide":3.5},
{"e":62,"noise_07_5":36.5,"noise_08_5":31.5,"noise_09_5":21.5,"noise_07_1_wide":8,"noise_08_1_wide":9.5,"noise_09_1_wide":3.5},
{"e":63,"noise_07_5":35.5,"noise_08_5":31,"noise_09_5":21.5,"noise_07_1_wide":6,"noise_08_1_wide":8,"noise_09_1_wide":3.5},
{"e":64,"noise_07_5":37,"noise_08_5":30.5,"noise_09_5":21.5,"noise_07_1_wide":6,"noise_08_1_wide":8,"noise_09_1_wide":3.5},
{"e":65,"noise_07_5":35,"noise_08_5":28.5,"noise_09_5":19.5,"noise_07_1_wide":6,"noise_08_1_wide":7.5,"noise_09_1_wide":2.5},
{"e":66,"noise_07_5":33,"noise_08_5":32.5,"noise_09_5":21.5,"noise_07_1_wide":6,"noise_08_1_wide":9,"noise_09_1_wide":6},
{"e":67,"noise_07_5":35,"noise_08_5":31.5,"noise_09_5":22,"noise_07_1_wide":5.5,"noise_08_1_wide":6.5,"noise_09_1_wide":6},
{"e":68,"noise_07_5":34,"noise_08_5":32.5,"noise_09_5":21,"noise_07_1_wide":5.5,"noise_08_1_wide":6,"noise_09_1_wide":2.5},
{"e":69,"noise_07_5":35,"noise_08_5":32,"noise_09_5":19.5,"noise_07_1_wide":6,"noise_08_1_wide":8,"noise_09_1_wide":4.5},
{"e":70,"noise_07_5":36,"noise_08_5":31.5,"noise_09_5":19,"noise_07_1_wide":7,"noise_08_1_wide":9.5,"noise_09_1_wide":3.5},
{"e":71,"noise_07_5":32.5,"noise_08_5":27,"noise_09_5":17,"noise_07_1_wide":7,"noise_08_1_wide":9,"noise_09_1_wide":3},
{"e":72,"noise_07_5":35,"noise_08_5":28.5,"noise_09_5":19.5,"noise_07_1_wide":7,"noise_08_1_wide":9.5,"noise_09_1_wide":7},
{"e":73,"noise_07_5":37,"noise_08_5":31.5,"noise_09_5":19,"noise_07_1_wide":6.5,"noise_08_1_wide":7.5,"noise_09_1_wide":4},
{"e":74,"noise_07_5":37,"noise_08_5":30.5,"noise_09_5":19.5,"noise_07_1_wide":6,"noise_08_1_wide":7.5,"noise_09_1_wide":3},
{"e":75,"noise_07_5":38,"noise_08_5":32,"noise_09_5":22,"noise_07_1_wide":5.5,"noise_08_1_wide":13,"noise_09_1_wide":2.5},
{"e":76,"noise_07_5":39,"noise_08_5":29,"noise_09_5":22.5,"noise_07_1_wide":5.5,"noise_08_1_wide":14,"noise_09_1_wide":2.5},
{"e":77,"noise_07_5":41.5,"noise_08_5":29.5,"noise_09_5":23,"noise_07_1_wide":5.5,"noise_08_1_wide":11.5,"noise_09_1_wide":6},
{"e":78,"noise_07_5":38,"noise_08_5":34,"noise_09_5":22,"noise_07_1_wide":5.5,"noise_08_1_wide":11.5,"noise_09_1_wide":3},
{"e":79,"noise_07_5":36.5,"noise_08_5":34,"noise_09_5":22,"noise_07_1_wide":5.5,"noise_08_1_wide":9.5,"noise_09_1_wide":3},
{"e":80,"noise_07_5":38,"noise_08_5":34.5,"noise_09_5":22,"noise_07_1_wide":6.5,"noise_08_1_wide":11.5,"noise_09_1_wide":2.5},
{"e":81,"noise_07_5":38,"noise_08_5":32.5,"noise_09_5":20,"noise_07_1_wide":6.5,"noise_08_1_wide":12.5,"noise_09_1_wide":2},
{"e":82,"noise_07_5":38,"noise_08_5":31,"noise_09_5":20,"noise_07_1_wide":6.5,"noise_08_1_wide":12,"noise_09_1_wide":3},
{"e":83,"noise_07_5":38.5,"noise_08_5":28.5,"noise_09_5":20,"noise_07_1_wide":6,"noise_08_1_wide":10,"noise_09_1_wide":2},
{"e":84,"noise_07_5":39,"noise_08_5":28.5,"noise_09_5":21,"noise_07_1_wide":8.5,"noise_08_1_wide":9,"noise_09_1_wide":4},
{"e":85,"noise_07_5":39.5,"noise_08_5":32,"noise_09_5":21.5,"noise_07_1_wide":8,"noise_08_1_wide":10.5,"noise_09_1_wide":4},
{"e":86,"noise_07_5":39,"noise_08_5":33,"noise_09_5":20.5,"noise_07_1_wide":7.5,"noise_08_1_wide":8,"noise_09_1_wide":4},
{"e":87,"noise_07_5":41.5,"noise_08_5":31.5,"noise_09_5":20.5,"noise_07_1_wide":7.5,"noise_08_1_wide":9.5,"noise_09_1_wide":3},
{"e":88,"noise_07_5":41,"noise_08_5":32,"noise_09_5":21,"noise_07_1_wide":8,"noise_08_1_wide":10.5,"noise_09_1_wide":2.5},
{"e":89,"noise_07_5":42.5,"noise_08_5":32,"noise_09_5":20.5,"noise_07_1_wide":7.5,"noise_08_1_wide":11.5,"noise_09_1_wide":4},
{"e":90,"noise_07_5":42,"noise_08_5":31.5,"noise_09_5":20,"noise_07_1_wide":8,"noise_08_1_wide":8.5,"noise_09_1_wide":7.5},
{"e":91,"noise_07_5":42.5,"noise_08_5":34.5,"noise_09_5":19,"noise_07_1_wide":7.5,"noise_08_1_wide":7.5,"noise_09_1_wide":4},
{"e":92,"noise_07_5":41,"noise_08_5":30.5,"noise_09_5":20,"noise_07_1_wide":8,"noise_08_1_wide":7.5,"noise_09_1_wide":2.5},
{"e":93,"noise_07_5":40.5,"noise_08_5":32,"noise_09_5":21,"noise_07_1_wide":8,"noise_08_1_wide":10,"noise_09_1_wide":2},
{"e":94,"noise_07_5":36.5,"noise_08_5":34.5,"noise_09_5":21.5,"noise_07_1_wide":9.5,"noise_08_1_wide":8.5,"noise_09_1_wide":3.5},
{"e":95,"noise_07_5":38,"noise_08_5":35.5,"noise_09_5":22,"noise_07_1_wide":8,"noise_08_1_wide":10,"noise_09_1_wide":3.5},
{"e":96,"noise_07_5":38.5,"noise_08_5":31,"noise_09_5":21,"noise_07_1_wide":8,"noise_08_1_wide":9.5,"noise_09_1_wide":3.5},
{"e":97,"noise_07_5":39.5,"noise_08_5":33,"noise_09_5":22.5,"noise_07_1_wide":6,"noise_08_1_wide":8.5,"noise_09_1_wide":4},
{"e":98,"noise_07_5":37.5,"noise_08_5":33,"noise_09_5":23.5,"noise_07_1_wide":8,"noise_08_1_wide":10,"noise_09_1_wide":2.5},
{"e":99,"noise_07_5":38.5,"noise_08_5":35,"noise_09_5":22.5,"noise_07_1_wide":8,"noise_08_1_wide":9,"noise_09_1_wide":4},
{"e":100,"noise_07_5":38.5,"noise_08_5":32,"noise_09_5":23.5,"noise_07_1_wide":6.5,"noise_08_1_wide":10,"noise_09_1_wide":5.5}
]
},
"hconcat": [
{
 "width": 333, "height": 333,
 "data": {"name": "p1"},
 "transform": [{"fold": ["noise_01_5","noise_02_5","noise_03_5","noise_01_1_wide","noise_02_1_wide","noise_03_1_wide"], "as": ["series","acc"]}],
 "mark": {"type": "line", "strokeWidth": 3.3, "strokeJoin": "round", "strokeCap": "round"},
 "encoding": {
  "x": {"field": "e", "type": "quantitative", "scale": {"domain": [1,100], "nice": false, "zero": false}, "axis": {"values": [1,9,17,25,33,41,49,57,65,73,81,89,97], "title": "Epoch"}},
  "y": {"field": "acc", "type": "quantitative", "scale": {"domain": [0,70], "nice": false}, "axis": {"values": [0,10,20,30,40,50,60,70], "format": ".2f", "title": "Accuracy"}},
  "color": {"field": "series", "type": "nominal", "scale": {"domain": ["noise_01_5","noise_02_5","noise_03_5","noise_01_1_wide","noise_02_1_wide","noise_03_1_wide"], "range": ["#4472C4","#264478","#9E480E","#ED7D31","#5B9BD5","#70AD47"]}, "legend": {"title": null, "labelExpr": "length(datum.label) > 11 ? [slice(datum.label, 0, 11), slice(datum.label, 11)] : [datum.label, ' ']", "encode": {"labels": {"update": {"lineHeight": {"value": 24}}}}}}
 }
},
{
 "width": 333, "height": 333,
 "data": {"name": "p2"},
 "transform": [{"fold": ["noise_04_5","noise_05_5","noise_06_5","noise_04_1_wide","noise_05_1_wide","noise_06_1_wide"], "as": ["series","acc"]}],
 "mark": {"type": "line", "strokeWidth": 3.3, "strokeJoin": "round", "strokeCap": "round"},
 "encoding": {
  "x": {"field": "e", "type": "quantitative", "scale": {"domain": [1,100], "nice": false, "zero": false}, "axis": {"values": [1,9,17,25,33,41,49,57,65,73,81,89,97], "title": "Epoch"}},
  "y": {"field": "acc", "type": "quantitative", "scale": {"domain": [0,70], "nice": false}, "axis": {"values": [0,10,20,30,40,50,60,70], "format": ".2f", "title": "Accuracy"}},
  "color": {"field": "series", "type": "nominal", "scale": {"domain": ["noise_04_5","noise_05_5","noise_06_5","noise_04_1_wide","noise_05_1_wide","noise_06_1_wide"], "range": ["#4472C4","#264478","#9E480E","#ED7D31","#5B9BD5","#70AD47"]}, "legend": {"title": null, "labelExpr": "length(datum.label) > 11 ? [slice(datum.label, 0, 11), slice(datum.label, 11)] : [datum.label, ' ']", "encode": {"labels": {"update": {"lineHeight": {"value": 24}}}}}}
 }
},
{
 "width": 333, "height": 333,
 "data": {"name": "p3"},
 "transform": [{"fold": ["noise_07_5","noise_08_5","noise_09_5","noise_07_1_wide","noise_08_1_wide","noise_09_1_wide"], "as": ["series","acc"]}],
 "mark": {"type": "line", "strokeWidth": 3.3, "strokeJoin": "round", "strokeCap": "round"},
 "encoding": {
  "x": {"field": "e", "type": "quantitative", "scale": {"domain": [1,100], "nice": false, "zero": false}, "axis": {"values": [1,9,17,25,33,41,49,57,65,73,81,89,97], "title": "Epoch"}},
  "y": {"field": "acc", "type": "quantitative", "scale": {"domain": [0,45], "nice": false}, "axis": {"values": [0,5,10,15,20,25,30,35,40,45], "format": ".2f", "title": "Accuracy"}},
  "color": {"field": "series", "type": "nominal", "scale": {"domain": ["noise_07_5","noise_08_5","noise_09_5","noise_07_1_wide","noise_08_1_wide","noise_09_1_wide"], "range": ["#4472C4","#264478","#9E480E","#ED7D31","#5B9BD5","#70AD47"]}, "legend": {"title": null, "labelExpr": "length(datum.label) > 11 ? [slice(datum.label, 0, 11), slice(datum.label, 11)] : [datum.label, ' ']", "encode": {"labels": {"update": {"lineHeight": {"value": 24}}}}}}
 }
}
],
"resolve": {"scale": {"color": "independent", "y": "independent", "x": "independent"}}
}
